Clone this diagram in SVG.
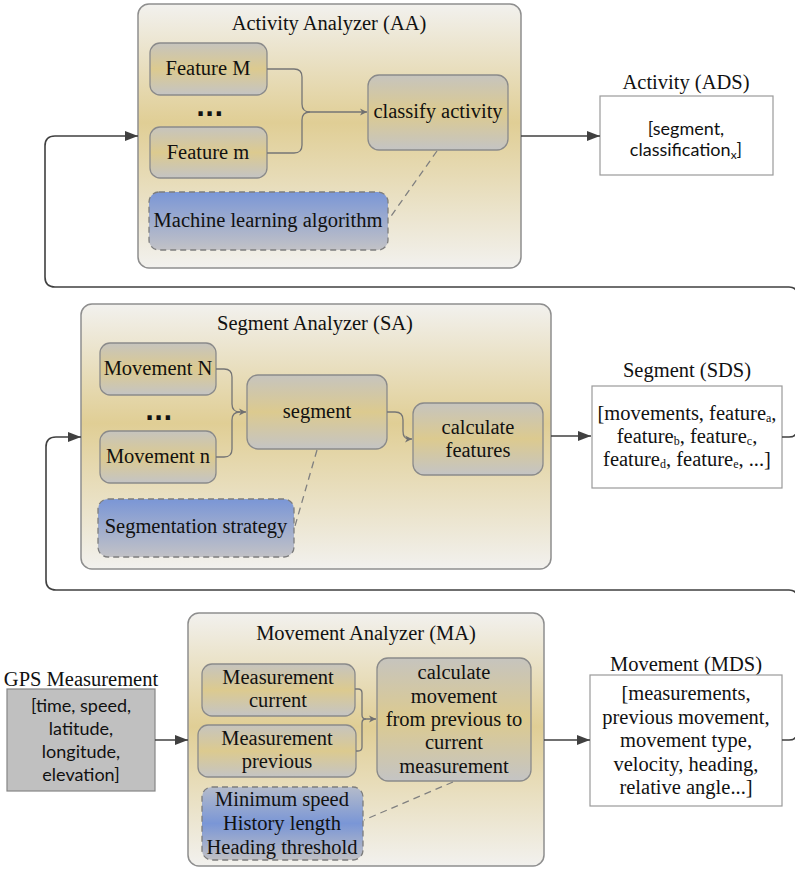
<svg xmlns="http://www.w3.org/2000/svg" width="795" height="869" viewBox="0 0 795 869">
<defs>
<linearGradient id="gCont" x1="0" y1="0" x2="0" y2="1">
<stop offset="0" stop-color="#f2f1ee"/>
<stop offset="0.45" stop-color="#e0ce95"/>
<stop offset="1" stop-color="#f2f1ee"/>
</linearGradient>
<linearGradient id="gNode" x1="0" y1="0" x2="0" y2="1">
<stop offset="0" stop-color="#c6c4be"/>
<stop offset="0.5" stop-color="#dcca8f"/>
<stop offset="1" stop-color="#c4c4c4"/>
</linearGradient>
<linearGradient id="gBlue" x1="0" y1="0" x2="0" y2="1">
<stop offset="0" stop-color="#7a96d6"/>
<stop offset="1" stop-color="#c2c2c6"/>
</linearGradient>
<linearGradient id="gBlue2" x1="0" y1="0" x2="0" y2="1">
<stop offset="0" stop-color="#b4bbca"/>
<stop offset="0.5" stop-color="#7a96d6"/>
<stop offset="1" stop-color="#c0c0c4"/>
</linearGradient>
<marker id="arrow" markerUnits="userSpaceOnUse" markerWidth="14" markerHeight="10" refX="13" refY="5" orient="auto">
<path d="M0,0 L13,5 L0,10 z" fill="#404040"/>
</marker>
<marker id="arrowS" markerUnits="userSpaceOnUse" markerWidth="8" markerHeight="8" refX="7" refY="4" orient="auto">
<path d="M0,0.5 L7,4 L0,7.5 L2,4 z" fill="#707070"/>
</marker>
<style>
.cont{fill:url(#gCont);stroke:#8e8e8e;stroke-width:1.5}
.node{fill:url(#gNode);stroke:#8a8a8a;stroke-width:1.3}
.param{stroke:#7d7d7d;stroke-width:1.3;stroke-dasharray:6 4}
.data{fill:#ffffff;stroke:#9a9a9a;stroke-width:1.2}
.t{font-family:"Liberation Serif","Times New Roman",serif;font-size:20.5px;fill:#111;text-anchor:middle}
.s{font-family:Lato,"Liberation Sans",sans-serif;font-size:18px;fill:#111;text-anchor:middle}
.sub{font-size:12px}
.dots{font-family:"DejaVu Sans",sans-serif;font-weight:bold;font-size:24px;fill:#111}
.conn{fill:none;stroke:#404040;stroke-width:1.6}
.inner{fill:none;stroke:#757575;stroke-width:1.3}
.dash{fill:none;stroke:#808080;stroke-width:1.3;stroke-dasharray:7 5}
</style>
</defs>

<g id="aa">
<rect class="cont" x="138" y="4" width="383" height="264" rx="11"/>
<text class="t" x="329" y="30">Activity Analyzer (AA)</text>
</g>
<g id="feature-M">
<rect class="node" x="150" y="43" width="117" height="52" rx="10"/>
<text class="t" x="208" y="75">Feature M</text>
</g>
<g id="aa-dots"><text class="dots" x="196" y="116">...</text></g>
<g id="feature-m">
<rect class="node" x="150" y="127" width="117" height="51" rx="10"/>
<text class="t" x="208" y="159">Feature m</text>
</g>
<g id="classify">
<rect class="node" x="368" y="75" width="140" height="75" rx="11"/>
<text class="t" x="438" y="118">classify activity</text>
</g>
<g id="ml">
<rect class="param" fill="url(#gBlue)" x="149" y="192" width="239" height="58" rx="10"/>
<text class="t" x="268" y="227">Machine learning algorithm</text>
</g>

<g id="ads">
<text class="t" x="686" y="89">Activity (ADS)</text>
<rect class="data" x="600" y="96" width="173" height="79"/>
<text class="s" x="686" y="135">[segment,</text>
<text class="s" x="686" y="156">classification<tspan class="sub" dy="3">x</tspan><tspan dy="-3">]</tspan></text>
</g>

<g id="sa">
<rect class="cont" x="81" y="304" width="470" height="265" rx="11"/>
<text class="t" x="315" y="330">Segment Analyzer (SA)</text>
</g>
<g id="movement-N">
<rect class="node" x="100" y="343" width="116" height="52" rx="10"/>
<text class="t" x="158" y="375">Movement N</text>
</g>
<g id="sa-dots"><text class="dots" x="145" y="420">...</text></g>
<g id="movement-n">
<rect class="node" x="100" y="431" width="116" height="52" rx="10"/>
<text class="t" x="158" y="463">Movement n</text>
</g>
<g id="segment">
<rect class="node" x="247" y="375" width="140" height="74" rx="11"/>
<text class="t" x="317" y="418">segment</text>
</g>
<g id="calc-features">
<rect class="node" x="413" y="403" width="130" height="72" rx="11"/>
<text class="t" x="478" y="434">calculate</text>
<text class="t" x="478" y="457">features</text>
</g>
<g id="seg-strategy">
<rect class="param" fill="url(#gBlue)" x="98" y="499" width="196" height="58" rx="10"/>
<text class="t" x="196" y="533">Segmentation strategy</text>
</g>

<g id="sds">
<text class="t" x="687" y="377">Segment (SDS)</text>
<rect class="data" x="592" y="386" width="190" height="102"/>
<text class="t" x="687" y="420">[movements, feature<tspan class="sub" dy="2">a</tspan><tspan dy="-2">,</tspan></text>
<text class="t" x="687" y="443">feature<tspan class="sub" dy="2">b</tspan><tspan dy="-2">, feature</tspan><tspan class="sub" dy="2">c</tspan><tspan dy="-2">,</tspan></text>
<text class="t" x="687" y="466">feature<tspan class="sub" dy="2">d</tspan><tspan dy="-2">, feature</tspan><tspan class="sub" dy="2">e</tspan><tspan dy="-2">, ...]</tspan></text>
</g>

<g id="gps">
<text class="t" x="81" y="686">GPS Measurement</text>
<rect x="7" y="689" width="148" height="102" fill="#c0c0c0" stroke="#858585" stroke-width="1.2"/>
<text class="s" x="81" y="712">[time, speed,</text>
<text class="s" x="81" y="735">latitude,</text>
<text class="s" x="81" y="758">longitude,</text>
<text class="s" x="81" y="781">elevation]</text>
</g>

<g id="ma">
<rect class="cont" x="188" y="613" width="356" height="253" rx="11"/>
<text class="t" x="366" y="640">Movement Analyzer (MA)</text>
</g>
<g id="meas-current">
<rect class="node" x="202" y="664" width="153" height="52" rx="10"/>
<text class="t" x="278" y="684">Measurement</text>
<text class="t" x="278" y="707">current</text>
</g>
<g id="meas-previous">
<rect class="node" x="198" y="725" width="158" height="52" rx="10"/>
<text class="t" x="277" y="745">Measurement</text>
<text class="t" x="277" y="768">previous</text>
</g>
<g id="calc-movement">
<rect class="node" x="377" y="658" width="154" height="123" rx="11"/>
<text class="t" x="454" y="679">calculate</text>
<text class="t" x="454" y="703">movement</text>
<text class="t" x="454" y="726">from previous to</text>
<text class="t" x="454" y="749">current</text>
<text class="t" x="454" y="773">measurement</text>
</g>
<g id="ma-params">
<rect class="param" fill="url(#gBlue2)" x="202" y="787" width="161" height="73" rx="10"/>
<text class="t" x="282" y="806">Minimum speed</text>
<text class="t" x="282" y="830">History length</text>
<text class="t" x="282" y="854">Heading threshold</text>
</g>

<g id="mds">
<text class="t" x="686" y="671">Movement (MDS)</text>
<rect class="data" x="590" y="675" width="192" height="131"/>
<text class="t" x="686" y="700">[measurements,</text>
<text class="t" x="686" y="724">previous movement,</text>
<text class="t" x="686" y="747">movement type,</text>
<text class="t" x="686" y="771">velocity, heading,</text>
<text class="t" x="686" y="794">relative angle...]</text>
</g>

<g id="connectors">
<path class="inner" d="M267,69 H294 Q302,69 302,77 V104 Q302,112 310,112 H367" marker-end="url(#arrowS)"/>
<path class="inner" d="M267,153 H294 Q302,153 302,145 V120 Q302,112 310,112"/>
<path class="dash" d="M437,151 L389,219"/>
<path class="conn" d="M521,136 H600" marker-end="url(#arrow)"/>
<path class="conn" d="M782,437 H789 Q797,437 797,429 V295 Q797,287 789,287 H55 Q45,287 45,277 V146 Q45,136 55,136 H138" marker-end="url(#arrow)"/>

<path class="inner" d="M216,369 H224 Q232,369 232,377 V404 Q232,412 240,412 H246" marker-end="url(#arrowS)"/>
<path class="inner" d="M216,457 H224 Q232,457 232,449 V420 Q232,412 240,412"/>
<path class="inner" d="M387,412 H395 Q403,412 403,420 V431 Q403,439 409,439 H412" marker-end="url(#arrowS)"/>
<path class="dash" d="M317,450 L295,526"/>
<path class="conn" d="M551,436 H591" marker-end="url(#arrow)"/>
<path class="conn" d="M782,740 H789 Q797,740 797,732 V598 Q797,590 789,590 H56 Q46,590 46,580 V447 Q46,437 56,437 H81" marker-end="url(#arrow)"/>

<path class="inner" d="M355,689 H358 Q362,689 362,693 V715 Q362,719 366,719 H376" marker-end="url(#arrowS)"/>
<path class="inner" d="M356,751 H358 Q362,751 362,747 V723 Q362,719 366,719"/>
<path class="dash" d="M453,782 L364,820"/>
<path class="conn" d="M155,740 H188" marker-end="url(#arrow)"/>
<path class="conn" d="M544,740 H590" marker-end="url(#arrow)"/>
</g>
</svg>
